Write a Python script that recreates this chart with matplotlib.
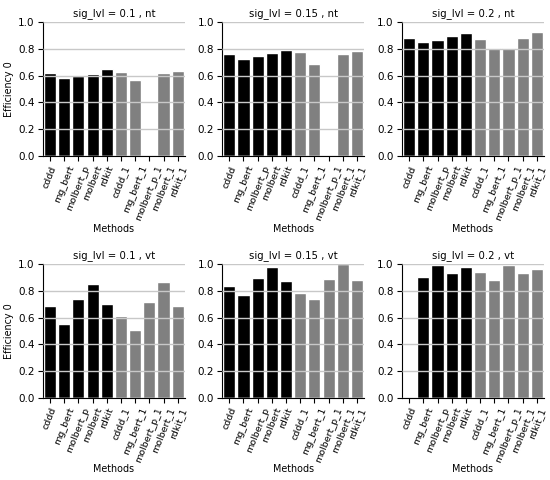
import matplotlib
matplotlib.use("Agg")
import matplotlib.pyplot as plt
import numpy as np

methods = ["cddd", "mg_bert", "molbert_p", "molbert", "rdkit",
           "cddd_1", "mg_bert_1", "molbert_p_1", "molbert_1", "rdkit_1"]
bar_colors = ["black"] * 5 + ["grey"] * 5

titles = ["sig_lvl = 0.1 , nt", "sig_lvl = 0.15 , nt", "sig_lvl = 0.2 , nt",
          "sig_lvl = 0.1 , vt", "sig_lvl = 0.15 , vt", "sig_lvl = 0.2 , vt"]

eff_01_nt = [0.62, 0.58, 0.60, 0.615, 0.65, 0.625, 0.57, 0.0, 0.62, 0.635]
eff_015_nt = [0.76, 0.725, 0.75, 0.77, 0.795, 0.775, 0.69, 0.0, 0.76, 0.785]
eff_02_nt = [0.88, 0.85, 0.865, 0.895, 0.915, 0.875, 0.81, 0.81, 0.88, 0.925]
eff_01_vt = [0.685, 0.55, 0.735, 0.85, 0.705, 0.615, 0.505, 0.715, 0.865, 0.69]
eff_015_vt = [0.835, 0.77, 0.895, 0.975, 0.87, 0.785, 0.735, 0.885, 1.0, 0.88]
eff_02_vt = [0.0, 0.90, 0.99, 0.93, 0.975, 0.94, 0.88, 0.99, 0.93, 0.965]

series = [eff_01_nt, eff_015_nt, eff_02_nt, eff_01_vt, eff_015_vt, eff_02_vt]

fig = plt.figure(figsize=(5.5, 4.8), dpi=100)
lefts = [0.078, 0.404, 0.731]
width = 0.258
bottoms = [0.675, 0.171]
height = 0.279

for i, (vals, title) in enumerate(zip(series, titles)):
    r, c = divmod(i, 3)
    ax = fig.add_axes([lefts[c], bottoms[r], width, height])
    x = np.arange(len(methods))
    ax.bar(x, vals, width=0.85, color=bar_colors, edgecolor="white", linewidth=1, zorder=1)
    ax.set_ylim(0, 1.0)
    ax.set_xlim(-0.5, len(methods) - 0.5)
    ax.set_yticks([0.0, 0.2, 0.4, 0.6, 0.8, 1.0])
    ax.yaxis.grid(True, color="#c8c8c8", linewidth=1, zorder=2)
    ax.set_axisbelow(False)
    ax.set_xticks(x)
    ax.set_xticklabels(methods, rotation=68, ha="center", fontsize=6.8)
    ax.tick_params(axis="y", labelsize=7.5)
    ax.tick_params(axis="both", length=3.5, pad=2.5)
    ax.spines["top"].set_visible(False)
    ax.spines["right"].set_visible(False)
    ax.set_title(title, fontsize=7.3, pad=4)
    ax.set_xlabel("Methods", fontsize=6.9, labelpad=1.5 if r == 0 else 0)
    if c == 0:
        ax.set_ylabel("Efficiency 0", fontsize=6.9, labelpad=3)

fig.savefig("out.png", dpi=100)
